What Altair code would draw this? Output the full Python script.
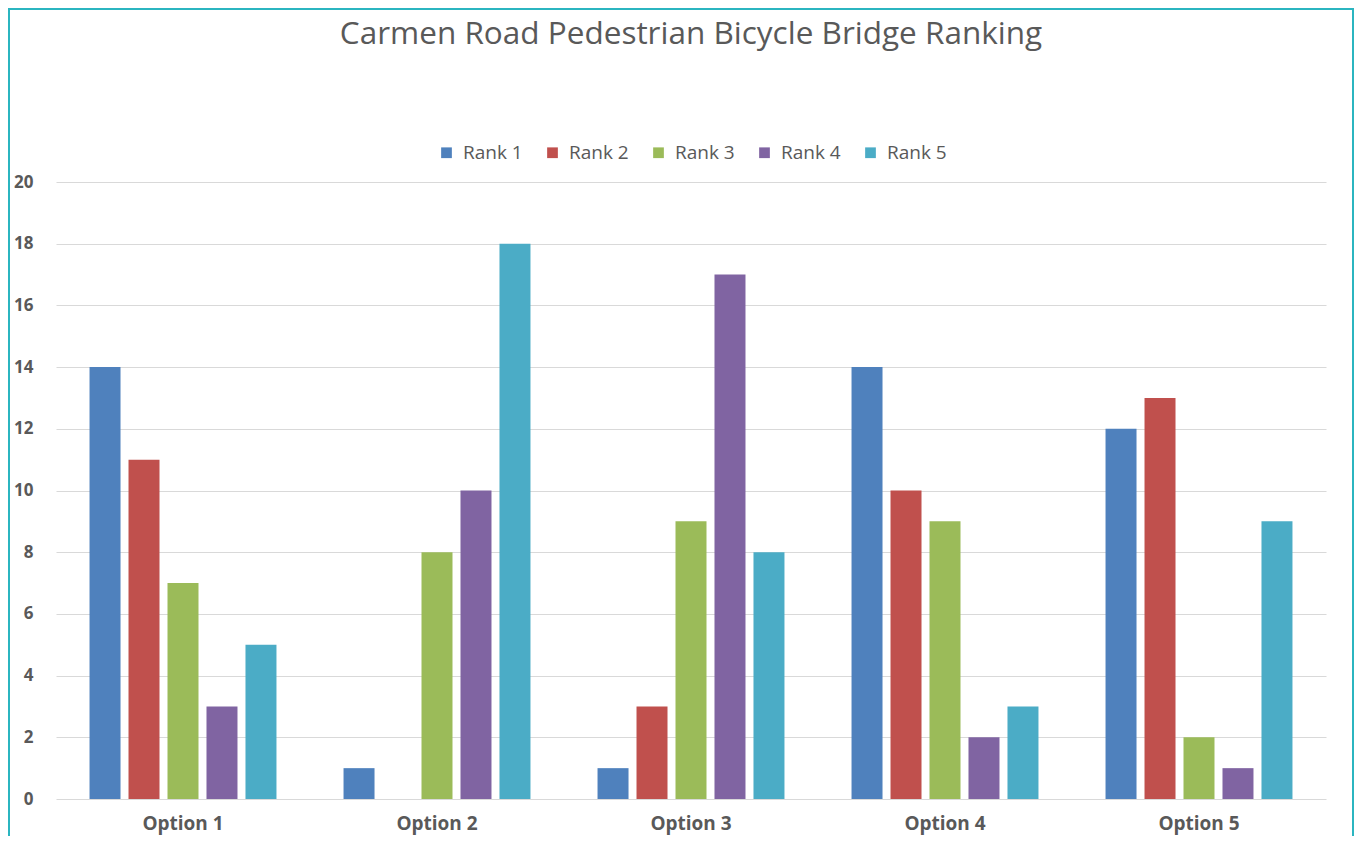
import altair as alt
import pandas as pd

options = ["Option 1", "Option 2", "Option 3", "Option 4", "Option 5"]
ranks = ["Rank 1", "Rank 2", "Rank 3", "Rank 4", "Rank 5"]
rank1 = [14, 1, 1, 14, 12]
rank2 = [11, 0, 3, 10, 13]
rank3 = [7, 8, 9, 9, 2]
rank4 = [3, 10, 17, 2, 1]
rank5 = [5, 18, 8, 3, 9]
colors = ["#4F81BD", "#C0504D", "#9BBB59", "#8064A2", "#4BACC6"]

series = [rank1, rank2, rank3, rank4, rank5]
rows = []
for r, vals in zip(ranks, series):
    for o, v in zip(options, vals):
        rows.append({"Option": o, "Rank": r, "Count": v})
df = pd.DataFrame(rows)

FONT = "Open Sans"
GREY = "#595959"

bars = alt.Chart(df).mark_bar().encode(
    x=alt.X("Option:N", sort=options, title=None,
            scale=alt.Scale(paddingInner=0.264, paddingOuter=0.132),
            axis=alt.Axis(labelAngle=0, labelFont=FONT, labelFontSize=19,
                          labelFontWeight="bold", labelColor=GREY,
                          labelPadding=15, ticks=False, domain=False, grid=False)),
    xOffset=alt.XOffset("Rank:N", sort=ranks,
                        scale=alt.Scale(paddingInner=0.205, paddingOuter=0)),
    y=alt.Y("Count:Q", title=None,
            scale=alt.Scale(domain=[0, 20]),
            axis=alt.Axis(values=list(range(0, 21, 2)), labelFont=FONT,
                          labelFontSize=17, labelFontWeight="bold",
                          labelColor=GREY, labelPadding=23, ticks=False,
                          domain=False, gridColor="#d9d9d9", gridWidth=1.2)),
    color=alt.Color("Rank:N", sort=ranks,
                    scale=alt.Scale(domain=ranks, range=colors),
                    legend=alt.Legend(title=None, orient="none", direction="horizontal",
                                      legendX=381, legendY=-39,
                                      symbolType="square", symbolSize=115,
                                      symbolStrokeWidth=0,
                                      labelFont=FONT, labelFontSize=19,
                                      labelColor=GREY, labelOffset=7,
                                      columnPadding=20)),
)

border = alt.Chart(alt.Data(values=[{"a": 1}])).mark_rect(
    fill=None, stroke="#2bb5c0", strokeWidth=2
).encode(
    x=alt.value(-47), x2=alt.value(1297),
    y=alt.value(-173), y2=alt.value(680),
)

chart = alt.layer(border, bars).properties(
    width=1270,
    height=617,
    padding={"left": 48, "top": 174, "right": 29, "bottom": 37},
    autosize=alt.AutoSizeParams(type="none"),
    title=alt.TitleParams("Carmen Road Pedestrian Bicycle Bridge Ranking",
                          font=FONT, fontSize=31.5, fontWeight="normal",
                          color=GREY, anchor="middle", offset=-42),
).configure_view(stroke=None)

chart.save("out.html", embed_options={"renderer": "svg", "actions": False})
